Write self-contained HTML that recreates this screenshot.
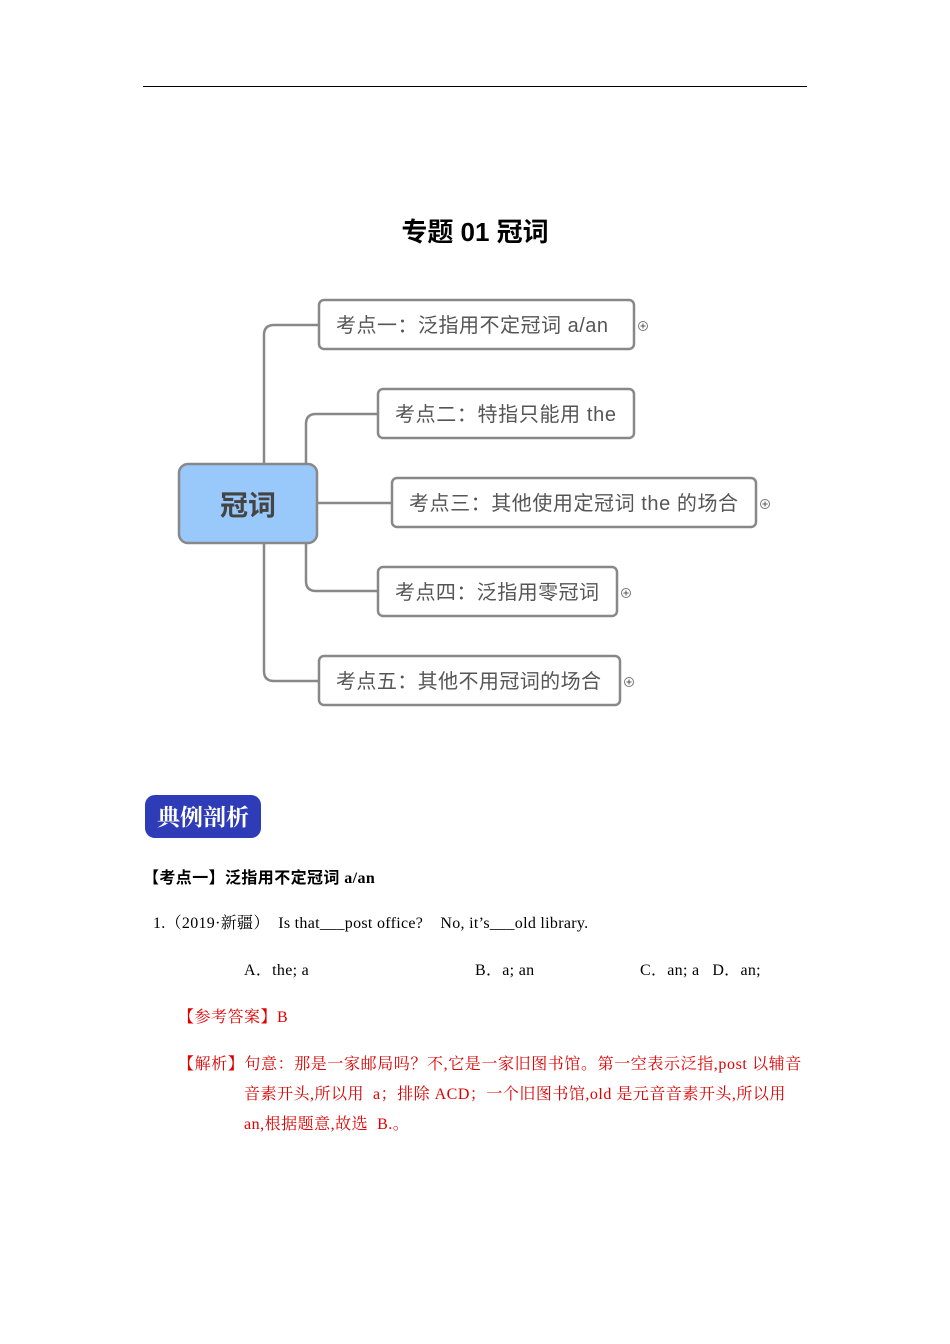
<!DOCTYPE html>
<html><head><meta charset="utf-8"><style>
body{margin:0;background:#fff;}
.pg{position:relative;width:950px;height:1344px;overflow:hidden;font-family:"Liberation Serif","Noto Serif CJK SC",serif;}
.a{position:absolute;white-space:nowrap;}
.r{color:#e00000;}
</style></head><body><div class="pg">
<div class="a" style="left:143px;top:86px;width:664px;height:1px;background:#000"></div>
<div class="a" style="left:0;width:950px;top:212px;text-align:center;font:bold 26px 'Liberation Sans','Noto Sans CJK SC',sans-serif;">专题 01 冠词</div>
<svg class="a" style="left:0;top:0" width="950" height="760">
<g fill="none" stroke="#888" stroke-width="2.5">
<path d="M319 325 H274 Q264 325 264 335 V671 Q264 681 274 681 H319"/>
<path d="M378 414 H316 Q306 414 306 424 V581 Q306 591 316 591 H378"/>
<path d="M317 503 H392"/>
</g>
<g stroke="#888" stroke-width="2.5" fill="#fff">
<rect x="319" y="300" width="315" height="49" rx="5"/>
<rect x="378" y="389" width="256" height="49" rx="5"/>
<rect x="392" y="478" width="364" height="49" rx="5"/>
<rect x="378" y="567" width="239" height="49" rx="5"/>
<rect x="319" y="656" width="301" height="49" rx="5"/>
<rect x="179" y="464" width="138" height="79" rx="9" fill="#99c8fb"/>
</g>
<g fill="#fff" stroke="#777" stroke-width="1">
<circle cx="643" cy="326" r="4.5"/><circle cx="765" cy="504" r="4.5"/><circle cx="626" cy="593" r="4.5"/><circle cx="629" cy="682" r="4.5"/>
</g>
<g stroke="#555" stroke-width="1">
<path d="M640.5 326h5M643 323.5v5M762.5 504h5M765 501.5v5M623.5 593h5M626 590.5v5M626.5 682h5M629 679.5v5"/>
</g>
<g font-family="Liberation Sans,Noto Sans CJK SC,sans-serif" font-size="20" fill="#555">
<text x="336" y="332" textLength="272">考点一：泛指用不定冠词 a/an</text>
<text x="395" y="421" textLength="221">考点二：特指只能用 the</text>
<text x="409" y="510" textLength="329">考点三：其他使用定冠词 the 的场合</text>
<text x="395" y="599" textLength="204">考点四：泛指用零冠词</text>
<text x="336" y="688" textLength="265">考点五：其他不用冠词的场合</text>
<text x="248" y="515" font-size="28" font-weight="bold" text-anchor="middle" fill="#444">冠词</text>
</g>
</svg>
<div class="a" style="left:145px;top:795px;width:116px;height:43px;background:#2e3cb8;border-radius:10px;color:#fff;font:bold 23px 'Noto Serif CJK SC',serif;line-height:41px;text-align:center;">典例剖析</div>
<div class="a" style="left:143px;top:864px;font-size:16px;font-weight:bold;font-family:'Liberation Serif','Noto Sans CJK SC',serif;letter-spacing:0.4px;">【考点一】泛指用不定冠词 a/an</div>
<div class="a" style="left:153px;top:910px;font-size:16px;letter-spacing:0.3px;">1.（2019·新疆）&nbsp; Is that___post office?&nbsp;&nbsp;&nbsp; No, it’s___old library.</div>
<div class="a" style="left:244px;top:957px;font-size:16px;letter-spacing:0.3px;">A．the; a</div>
<div class="a" style="left:475px;top:957px;font-size:16px;letter-spacing:0.3px;">B．a; an</div>
<div class="a" style="left:640px;top:957px;font-size:16px;letter-spacing:0.3px;">C．an; a&nbsp;&nbsp; D．an;</div>
<div class="a r" style="left:178px;top:1004px;font-size:16px;letter-spacing:0.5px;">【参考答案】B</div>
<div class="a r" style="left:178px;top:1051px;font-size:16px;letter-spacing:0.6px;">【解析】句意：那是一家邮局吗？不,它是一家旧图书馆。第一空表示泛指,post 以辅音</div>
<div class="a r" style="left:244px;top:1081px;font-size:16px;letter-spacing:0.5px;">音素开头,所以用&nbsp; a；排除 ACD；一个旧图书馆,old 是元音音素开头,所以用</div>
<div class="a r" style="left:244px;top:1111px;font-size:16px;letter-spacing:0.5px;">an,根据题意,故选&nbsp; B.。</div>
</div></body></html>
